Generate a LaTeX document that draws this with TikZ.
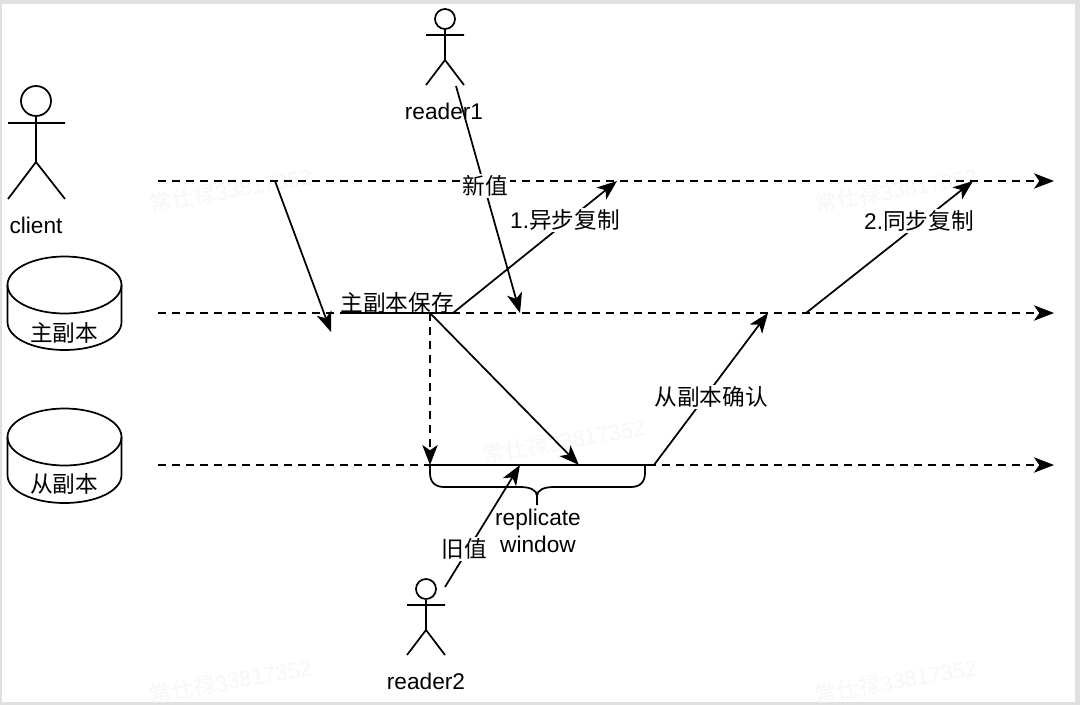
\documentclass[tikz,border=0pt]{standalone}
\usepackage{fontspec}
\setmainfont{Liberation Sans}
\newfontfamily\cjk{Noto Sans CJK SC}
\usetikzlibrary{arrows.meta}

\tikzset{
  thinline/.style={line width=1.3pt,black},
  flow/.style={thinline,-{Stealth[length=15pt,width=11.5pt,inset=4pt]}},
  timeline/.style={flow,dash pattern=on 6pt off 4.5pt},
  actorhead/.style={draw,thinline,circle,inner sep=0pt},
  lbl/.style={inner sep=1.5pt,align=center,font=\fontsize{17}{20}\selectfont},
  cutlbl/.style={lbl,fill=white},
  stamp/.style={inner sep=0pt,rotate=10,text=black!3,font=\fontsize{16.5}{20}\selectfont}
}

\begin{document}
\begin{tikzpicture}[x=0.75pt,y=0.75pt,yscale=-1,xscale=1]
\useasboundingbox (0,0) rectangle (1080,705);

%Frame
\fill [black!12] (0,0) rectangle (1080,705);
\fill [white] (2,4) rectangle (1075,702);

%Watermarks
\node (stamp1) [stamp] at (231,190) {{\cjk 常仕禄}33817352};
\node (stamp2) [stamp] at (896,190) {{\cjk 常仕禄}33817352};
\node (stamp3) [stamp] at (564,441) {{\cjk 常仕禄}33817352};
\node (stamp4) [stamp] at (231,681) {{\cjk 常仕禄}33817352};
\node (stamp5) [stamp] at (896,681) {{\cjk 常仕禄}33817352};

%Anchor points
\coordinate (clientS) at (158,181);
\coordinate (clientE) at (1054,181);
\coordinate (primaryS) at (158,313);
\coordinate (primaryE) at (1054,313);
\coordinate (replicaS) at (158,465);
\coordinate (replicaE) at (1054,465);
\coordinate (writeS) at (275,181);
\coordinate (writeE) at (331,332);
\coordinate (saveS) at (340,313);
\coordinate (saveE) at (453,313);
\coordinate (asyncE) at (617,181);
\coordinate (fork) at (430,313);
\coordinate (winS) at (430,465);
\coordinate (winE) at (654,465);
\coordinate (sendE) at (579,465);
\coordinate (ackE) at (768,313);
\coordinate (syncS) at (806,313);
\coordinate (syncE) at (973,181);
\coordinate (newS) at (456,86);
\coordinate (newE) at (520,313);
\coordinate (oldS) at (445,587);
\coordinate (oldE) at (520,465);

%Time lines
\draw [timeline] (clientS) -- (clientE);
\draw [timeline] (primaryS) -- (primaryE);
\draw [timeline] (replicaS) -- (replicaE);

%Straight Lines
\draw [thinline] (saveS) -- (saveE);
\draw [thinline] (winS) -- (winE);
\draw [flow] (writeS) -- (writeE);
\draw [flow] (saveE) -- (asyncE);
\draw [flow] (fork) -- (sendE);
\draw [flow,dash pattern=on 6pt off 4.5pt] (fork) -- (winS);
\draw [flow] (winE) -- (ackE);
\draw [flow] (syncS) -- (syncE);
\draw [flow] (newS) -- (newE);
\draw [flow] (oldS) -- (oldE);

%Brace
\draw [thinline] (430,465) -- (430,473) .. controls (430,482) and (435,487) .. (444,487) -- (520,487) .. controls (530,487) and (537,490) .. (537,496) -- (537,505);
\draw [thinline] (645,465) -- (645,473) .. controls (645,482) and (640,487) .. (631,487) -- (554,487) .. controls (544,487) and (537,490) .. (537,496);

%Shape: Actor client
\node (clienthead) [actorhead,minimum size=22.5pt] at (36,101) {};
\draw [thinline] (clienthead.south) -- (36,162) (8,123) -- (65,123) (8,199) -- (36,162) -- (65,199);
%Shape: Actor reader1
\node (reader1head) [actorhead,minimum size=15pt] at (445,19) {};
\draw [thinline] (reader1head.south) -- (445,60) (426,35) -- (464,35) (426,85) -- (445,60) -- (464,85);
%Shape: Actor reader2
\node (reader2head) [actorhead,minimum size=15pt] at (426,589) {};
\draw [thinline] (reader2head.south) -- (426,630) (407,605) -- (445,605) (407,655) -- (426,630) -- (445,655);

%Shape: Can primary
\draw [thinline] (64.5,285) ellipse [x radius=57,y radius=28.5];
\draw [thinline] (7.5,285) -- (7.5,322) .. controls (7.5,338) and (33,350) .. (64.5,350) .. controls (96,350) and (121.5,338) .. (121.5,322) -- (121.5,285);
%Shape: Can replica
\draw [thinline] (64.5,437) ellipse [x radius=57,y radius=28.5];
\draw [thinline] (7.5,437) -- (7.5,475) .. controls (7.5,491) and (33,503) .. (64.5,503) .. controls (96,503) and (121.5,491) .. (121.5,475) -- (121.5,437);

% Text Node
\draw (36,225) node (clienttext) [lbl] {client};
\draw (444,111) node (reader1text) [lbl] {reader1};
\draw (426,681) node (reader2text) [lbl] {reader2};
\draw (64,333) node (primarytext) [lbl] {\cjk 主副本};
\draw (64,484) node (replicatext) [lbl] {\cjk 从副本};
\draw (397,303) node (savetext) [lbl] {\cjk 主副本保存};
\draw (485,186) node (newtext) [cutlbl] {\cjk 新值};
\draw (565,220) node (asynctext) [cutlbl] {1.{\cjk 异步复制}};
\draw (919,221) node (synctext) [cutlbl] {2.{\cjk 同步复制}};
\draw (711,397) node (acktext) [cutlbl] {\cjk 从副本确认};
\draw (464,549) node (oldtext) [cutlbl] {\cjk 旧值};
\draw (538,531) node (windowtext) [lbl] {replicate\\window};

\end{tikzpicture}
\end{document}
